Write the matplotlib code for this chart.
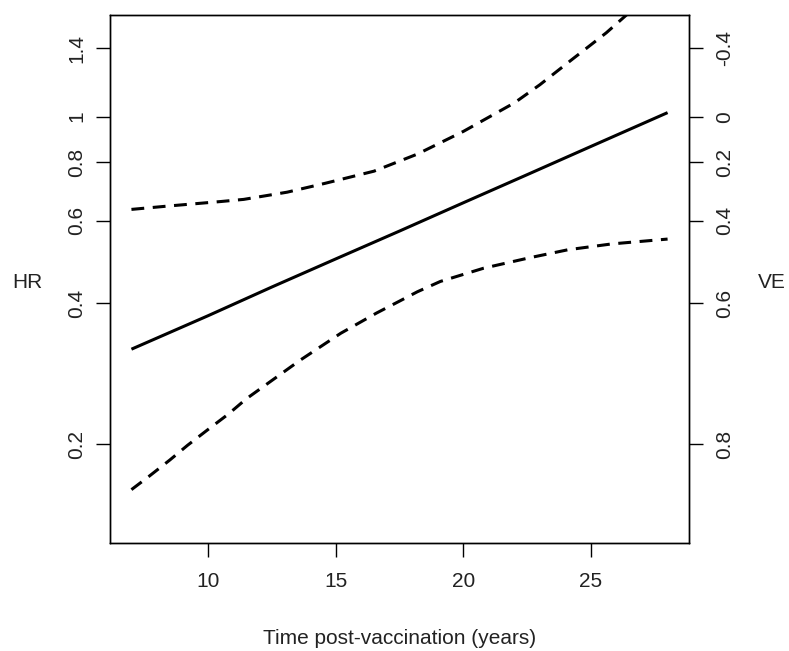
import matplotlib
matplotlib.use('Agg')
import matplotlib.pyplot as plt
from matplotlib.ticker import FixedLocator, FixedFormatter, NullLocator

plt.rcParams['font.family'] = ['Liberation Sans', 'DejaVu Sans']

# hazard ratio estimate (solid) and confidence band (dashed)
years_fit = [7, 10, 12.5, 15, 17.5, 20, 22.5, 25, 28]
hr_fit = [0.319, 0.376, 0.433, 0.497, 0.570, 0.655, 0.752, 0.864, 1.02]

years_upper = [7, 8.5, 10.5, 11.4, 13.1, 14.6, 16.5, 18.2, 20, 22, 23, 24.3, 24.9, 25.6, 26.4, 28]
hr_upper = [0.634, 0.645, 0.659, 0.666, 0.690, 0.721, 0.765, 0.832, 0.93, 1.07, 1.17, 1.33, 1.41, 1.51, 1.65, 1.94]

years_lower = [7, 7.7, 8.5, 9.2, 10, 10.8, 11.5, 13.6, 15.2, 16.6, 17.5, 18.2, 19.1, 20.8, 22.6, 24.1, 25.8, 28]
hr_lower = [0.160, 0.171, 0.185, 0.199, 0.215, 0.232, 0.250, 0.302, 0.345, 0.381, 0.404, 0.423, 0.445, 0.475, 0.500, 0.520, 0.535, 0.548]

hr_ticks = [0.2, 0.4, 0.6, 0.8, 1, 1.4]
hr_labels = ['0.2', '0.4', '0.6', '0.8', '1', '1.4']
ve_ticks = [0.8, 0.6, 0.4, 0.2, 0, -0.4]
ve_labels = ['0.8', '0.6', '0.4', '0.2', '0', '-0.4']
x_ticks = [10, 15, 20, 25]

text_col = '#222222'
fs = 15

fig = plt.figure(figsize=(7.89, 6.51), dpi=100)
ax = fig.add_axes([0.1394, 0.1659, 0.7339, 0.8111])

ax.plot(years_fit, hr_fit, color='black', lw=2.2, solid_capstyle='butt')
for xs, ys in [(years_upper, hr_upper), (years_lower, hr_lower)]:
    line, = ax.plot(xs, ys, color='black', lw=2.2, dash_capstyle='butt')
    line.set_dashes([4.2, 2.8])

ax.set_yscale('log')
ax.set_xlim(6.16, 28.84)
ax.set_ylim(0.1231, 1.648)

ax.xaxis.set_major_locator(FixedLocator(x_ticks))
ax.set_xticklabels([str(t) for t in x_ticks])
ax.yaxis.set_major_locator(FixedLocator(hr_ticks))
ax.yaxis.set_major_formatter(FixedFormatter(hr_labels))
ax.yaxis.set_minor_locator(NullLocator())

ax.tick_params(axis='both', length=10, width=1.0, colors='black',
               labelcolor=text_col, labelsize=fs)
ax.tick_params(axis='x', pad=11)
ax.tick_params(axis='y', pad=7)
for lab in ax.get_yticklabels():
    lab.set_rotation(90)
    lab.set_va('center')

ax2 = ax.twinx()
ax2.set_yscale('log')
ax2.set_ylim(ax.get_ylim())
ax2.yaxis.set_major_locator(FixedLocator([1 - v for v in ve_ticks]))
ax2.yaxis.set_major_formatter(FixedFormatter(ve_labels))
ax2.yaxis.set_minor_locator(NullLocator())
ax2.tick_params(axis='y', length=10, width=1.0, colors='black',
                labelcolor=text_col, labelsize=fs, pad=9)
for lab in ax2.get_yticklabels():
    lab.set_rotation(90)
    lab.set_va('center')

for a in (ax, ax2):
    for sp in a.spines.values():
        sp.set_linewidth(1.0)

fig.text(27 / 789, 1 - 283 / 651, 'HR', ha='center', va='center', fontsize=fs, color=text_col)
fig.text(772 / 789, 1 - 282 / 651, 'VE', ha='center', va='center', fontsize=fs, color=text_col)
fig.text(400 / 789, 1 - 638 / 651, 'Time post-vaccination (years)', ha='center', va='center',
         fontsize=fs, color=text_col)

fig.savefig('out.png', dpi=100, facecolor='white')
